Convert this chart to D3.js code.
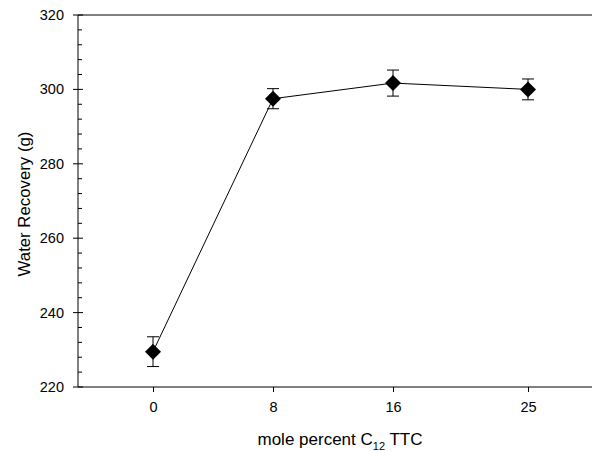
<!DOCTYPE html>
<html>
<head>
<meta charset="utf-8">
<script src="https://cdn.jsdelivr.net/npm/d3@7"></script>
<style>
  body { margin: 0; background: #fff; }
  svg { display: block; font-family: "Liberation Sans", Arial, sans-serif; }
</style>
</head>
<body>
<div id="chart"></div>
<script>
// data
const molePercent = [0, 8, 16, 25];
const waterRecovery = [229.5, 297.5, 301.7, 300.0];
const errorValues = [4.0, 2.7, 3.5, 2.8];
const xTicks = [0, 8, 16, 25];
const yTicks = [220, 240, 260, 280, 300, 320];

const width = 592, height = 452;
const margin = {top: 15, left: 78, bottom: 65};

const svg = d3.select("#chart").append("svg")
    .attr("width", width)
    .attr("height", height);

// scales
const x = d3.scaleLinear().domain([-5, 30]).range([margin.left, margin.left + 525]);
const y = d3.scaleLinear().domain([220, 320]).range([height - margin.bottom, margin.top]);

// frame (top + left + bottom, right edge runs off the picture)
svg.append("line")
    .attr("x1", x(-5)).attr("x2", width)
    .attr("y1", y(320)).attr("y2", y(320))
    .attr("stroke", "#000").attr("stroke-width", 1);

// x axis
const xAxis = svg.append("g")
    .attr("transform", `translate(0,${y(220)})`)
    .call(d3.axisBottom(x).tickValues(xTicks).tickSize(5).tickPadding(10).tickSizeOuter(0));
xAxis.select(".domain").attr("d", `M${x(-5)},0H${width}`);
xAxis.selectAll("text").attr("font-size", 14.5).attr("font-family", "Liberation Sans, Arial, sans-serif");

// y axis: minor ticks every 4 units, inside
const minor = d3.range(224, 320, 4).filter(v => v % 20 !== 0);
const yAxis = svg.append("g")
    .attr("transform", `translate(${x(-5)},0)`);
yAxis.append("line")
    .attr("x1", 0).attr("x2", 0)
    .attr("y1", y(220)).attr("y2", y(320))
    .attr("stroke", "#000");
yAxis.selectAll(".minor")
    .data(minor)
    .enter().append("line")
    .attr("class", "minor")
    .attr("x1", 0).attr("x2", 4)
    .attr("y1", d => y(d)).attr("y2", d => y(d))
    .attr("stroke", "#000");
yAxis.selectAll(".major")
    .data(yTicks)
    .enter().append("line")
    .attr("class", "major")
    .attr("x1", -5).attr("x2", 5)
    .attr("y1", d => y(d)).attr("y2", d => y(d))
    .attr("stroke", "#000");
yAxis.selectAll(".ylab")
    .data(yTicks)
    .enter().append("text")
    .attr("x", -14)
    .attr("y", d => y(d))
    .attr("dy", "0.35em")
    .attr("text-anchor", "end")
    .attr("font-size", 14.5)
    .text(d => d);

// axis titles
const xTitle = svg.append("text")
    .attr("x", 340)
    .attr("y", 445)
    .attr("text-anchor", "middle")
    .attr("font-size", 17);
xTitle.append("tspan").text("mole percent C");
xTitle.append("tspan").attr("font-size", 11).attr("dy", 5).text("12");
xTitle.append("tspan").attr("dy", -5).text(" TTC");

svg.append("text")
    .attr("transform", `translate(30,204) rotate(-90)`)
    .attr("text-anchor", "middle")
    .attr("font-size", 16.8)
    .text("Water Recovery (g)");

// data
const points = molePercent.map((m, i) => ({x: m, y: waterRecovery[i], err: errorValues[i]}));

svg.append("path")
    .datum(points)
    .attr("fill", "none")
    .attr("stroke", "#000")
    .attr("stroke-width", 1)
    .attr("d", d3.line().x(d => x(d.x)).y(d => y(d.y)));

// error bars
const err = svg.append("g").attr("stroke", "#000").attr("stroke-width", 1);
err.selectAll(".ebar")
    .data(points)
    .enter().append("path")
    .attr("fill", "none")
    .attr("d", d => {
        const cx = x(d.x), t = y(d.y + d.err), b = y(d.y - d.err);
        return `M${cx},${t}V${b}M${cx - 6},${t}H${cx + 6}M${cx - 6},${b}H${cx + 6}`;
    });

// diamonds
svg.selectAll(".pt")
    .data(points)
    .enter().append("path")
    .attr("class", "pt")
    .attr("transform", d => `translate(${x(d.x)},${y(d.y)})`)
    .attr("d", "M0,-8L8,0L0,8L-8,0Z")
    .attr("fill", "#000");
</script>
</body>
</html>
